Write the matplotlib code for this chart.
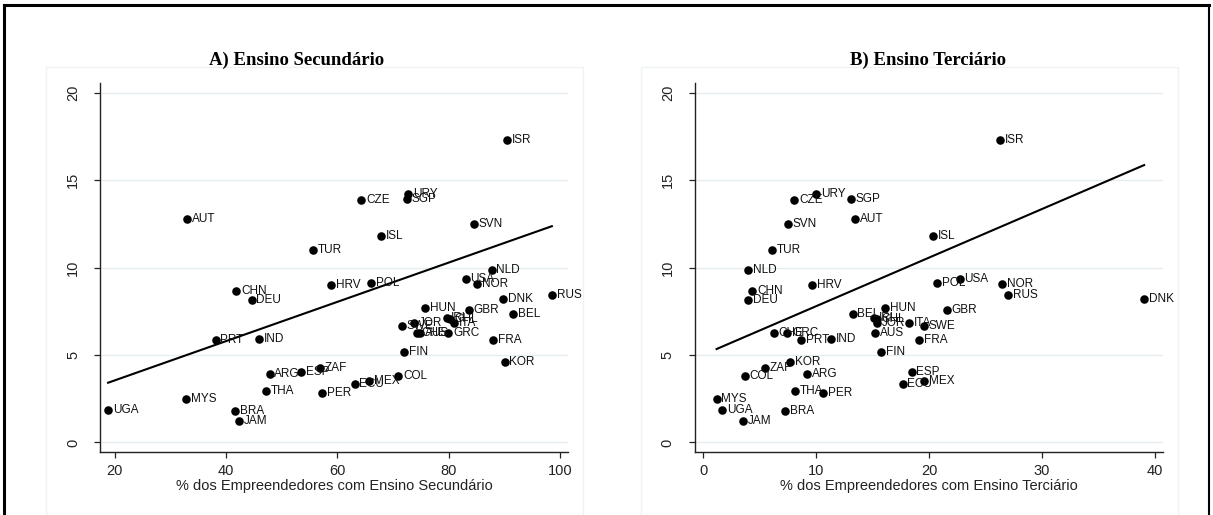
import numpy as np
import matplotlib
matplotlib.use("Agg")
import matplotlib.pyplot as plt
from matplotlib.patches import Rectangle
from matplotlib.lines import Line2D

# --- dados ---
paises = ["ISR", "URY", "SGP", "CZE", "AUT", "SVN", "ISL", "TUR", "NLD", "USA",
          "HRV", "POL", "NOR", "CHN", "DEU", "RUS", "DNK", "HUN", "GBR", "BEL",
          "IRL", "CHL", "JOR", "ITA", "SWE", "CHE", "AUS", "GRC", "PRT", "IND",
          "FRA", "FIN", "KOR", "ZAF", "ESP", "ARG", "COL", "MEX", "ECU", "THA",
          "PER", "MYS", "UGA", "BRA", "JAM"]

# taxa de empreendedorismo (eixo y, igual nos dois painéis)
tea = [17.3, 14.2, 13.94, 13.86, 12.77, 12.47, 11.80, 11.02, 9.86, 9.36,
       9.02, 9.09, 9.04, 8.66, 8.16, 8.43, 8.20, 7.68, 7.57, 7.32,
       7.13, 7.05, 6.84, 6.81, 6.65, 6.27, 6.27, 6.27, 5.83, 5.89,
       5.85, 5.18, 4.61, 4.27, 4.04, 3.91, 3.79, 3.52, 3.34, 2.93,
       2.80, 2.49, 1.85, 1.79, 1.20]

# % empreendedores com ensino secundário
secundario = [90.5, 72.7, 72.4, 64.3, 33.0, 84.5, 67.9, 55.6, 87.7, 83.0,
              58.9, 66.0, 85.1, 41.8, 44.6, 98.5, 89.7, 75.7, 83.6, 91.5,
              79.6, 80.2, 73.8, 81.0, 71.6, 74.3, 74.9, 79.9, 38.1, 45.9,
              88.0, 72.0, 90.0, 56.9, 53.5, 47.8, 70.9, 65.7, 63.1, 47.2,
              57.2, 32.8, 18.8, 41.6, 42.4]

# % empreendedores com ensino terciário
terciario = [26.26, 10.0, 13.04, 8.06, 13.43, 7.51, 20.38, 6.09, 3.98, 22.70,
             9.62, 20.73, 26.44, 4.36, 3.98, 27.02, 39.03, 16.09, 21.59, 13.22,
             15.09, 15.36, 15.36, 18.2, 19.55, 6.23, 15.22, 7.44, 8.69, 11.28,
             19.13, 15.78, 7.72, 5.43, 18.44, 9.20, 3.67, 19.55, 17.65, 8.10,
             10.59, 1.18, 1.66, 7.27, 3.53]

# retas ajustadas mostradas no gráfico (intercepto, inclinação)
reta_secundario = (1.30, 0.1123)
reta_terciario = (5.01, 0.2779)

titulos = ["A) Ensino Secundário", "B) Ensino Terciário"]
xlabels = ["% dos Empreendedores com Ensino Secundário",
           "% dos Empreendedores com Ensino Terciário"]
xticks = [[20, 40, 60, 80, 100], [0, 10, 20, 30, 40]]
xlims = [(17.4, 101.4), (-0.73, 40.7)]
yticks = [0, 5, 10, 15, 20]

plt.rcParams['font.family'] = ['Liberation Sans', 'DejaVu Sans']

W, H = 1213, 515
fig = plt.figure(figsize=(W / 100, H / 100), dpi=100)

# moldura externa
fig.add_artist(Line2D([4 / W, 1209 / W], [1 - 5 / H, 1 - 5 / H], color='black', lw=2.2))
fig.add_artist(Line2D([4 / W, 4 / W], [0, 1 - 5 / H], color='black', lw=2.2))
fig.add_artist(Line2D([1209 / W, 1209 / W], [0, 1 - 5 / H], color='black', lw=1.5))

# caixas claras das regiões dos gráficos
for x0, x1 in [(46, 583), (641, 1178)]:
    fig.add_artist(Rectangle((x0 / W, 0), (x1 - x0) / W, 1 - 67 / H,
                             transform=fig.transFigure, fill=False,
                             edgecolor='#eef2f4', lw=1))

axes_px = [(100.3, 568), (695, 1163)]
y_top, y_bot = 83, 452
title_x = [297, 928]

x_dados = [np.array(secundario), np.array(terciario)]
retas = [reta_secundario, reta_terciario]
y_dados = np.array(tea)

for i in range(2):
    l, r = axes_px[i]
    ax = fig.add_axes([l / W, 1 - y_bot / H, (r - l) / W, (y_bot - y_top) / H])
    x = x_dados[i]

    ax.scatter(x, y_dados, s=38, color='black', zorder=3, linewidths=0)
    for nome, xi, yi in zip(paises, x, y_dados):
        ax.annotate(nome, (xi, yi), xytext=(3.4, 0), textcoords='offset points',
                    va='center', ha='left', fontsize=8.5, color='#111111', zorder=4)

    # reta ajustada, no intervalo dos dados
    a, b = retas[i]
    xx = np.array([x.min(), x.max()])
    ax.plot(xx, a + b * xx, color='black', lw=1.5, zorder=2)

    ax.set_xlim(*xlims[i])
    ax.set_ylim(-0.55, 20.55)
    ax.set_xticks(xticks[i])
    ax.set_yticks(yticks)
    ax.set_yticklabels([str(t) for t in yticks], rotation=90, va='center')
    ax.grid(axis='y', color='#e6edf0', lw=1)
    ax.set_axisbelow(True)
    for s in ['top', 'right']:
        ax.spines[s].set_visible(False)
    for s in ['left', 'bottom']:
        ax.spines[s].set_color('#222222')
        ax.spines[s].set_linewidth(1)
    ax.tick_params(axis='both', direction='out', length=4.5, width=0.9,
                   colors='#222222', labelsize=10.5, labelcolor='#222222')
    ax.tick_params(axis='y', pad=10)
    ax.tick_params(axis='x', pad=4)
    ax.set_xlabel(xlabels[i], fontsize=10.5, color='#222222', labelpad=1)

    fig.text(title_x[i] / W, 1 - 60 / H, titulos[i], ha='center', va='center',
             fontsize=13.5, fontweight='bold', family='Liberation Serif')

fig.savefig("out.png", dpi=100)
